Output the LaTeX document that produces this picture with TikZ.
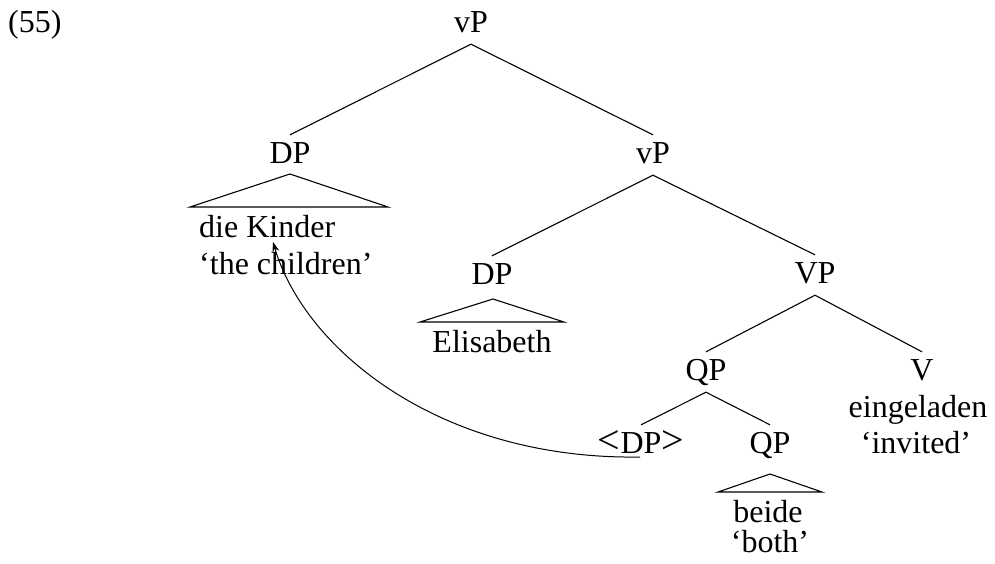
\documentclass[tikz,border=0pt]{standalone}
\usepackage{fontspec}
\setmainfont{Liberation Serif}
\usetikzlibrary{arrows.meta}
\newcommand{\lbrk}{\scalebox{1.25}{<}}
\newcommand{\rbrk}{\scalebox{1.25}{>}}
\begin{document}
\begin{tikzpicture}[x=1pt,y=-1pt,
  every node/.style={font=\fontsize{32}{38}\selectfont},
  cat/.style={anchor=base,inner xsep=0pt,inner ysep=6pt,text height=22pt,text depth=6pt},
  leaf/.style={anchor=base,inner sep=0pt},
  branch/.style={line width=1.1pt},
  tri/.style={line width=1.1pt,line join=miter},
  move/.style={line width=1pt,-{Stealth[length=10pt,width=7pt]}}]
\useasboundingbox (0,0) rectangle (995,563);
% example number
\node[leaf,anchor=base west] (num) at (8,32) {(55)};
% categories
\node[cat] (vP0) at (471,32) {vP};
\node[cat] (DP1) at (290,163) {DP};
\node[cat] (vP2) at (653,163) {vP};
\node[cat] (DP2) at (492,284) {DP};
\node[cat] (VP) at (815,283) {VP};
\node[cat] (QP1) at (706,380) {QP};
\node[cat] (V) at (922,380) {V};
\node[cat] (DPt) at (641,453) {\lbrk DP\rbrk};
\node[cat] (QP2) at (770,453) {QP};
% leaves
\node[leaf,anchor=base west] (kinder) at (199,237) {die Kinder};
\node[leaf,anchor=base west] (children) at (199,274) {`the children'};
\node[leaf] (elisabeth) at (492,352) {Elisabeth};
\node[leaf] (eingeladen) at (918,417) {eingeladen};
\node[leaf] (invited) at (916,453) {`invited'};
\node[leaf] (beide) at (768,522) {beide};
\node[leaf] (both) at (770,552) {`both'};
% branches
\draw[branch] (vP0.south) -- (DP1.north);
\draw[branch] (vP0.south) -- (vP2.north);
\draw[branch] (vP2.south) -- (DP2.north);
\draw[branch] (vP2.south) -- (VP.north);
\draw[branch] (VP.south) -- (QP1.north);
\draw[branch] (VP.south) -- (V.north);
\draw[branch] (QP1.south) -- (DPt.north);
\draw[branch] (QP1.south) -- (QP2.north);
% triangles
\coordinate (t1a) at (290,174);
\coordinate (t1l) at (190,207);
\coordinate (t1r) at (388,207);
\draw[tri] (t1l) -- (t1a) -- (t1r) -- cycle;
\coordinate (t2a) at (493,299);
\coordinate (t2l) at (420,322);
\coordinate (t2r) at (564,322);
\draw[tri] (t2l) -- (t2a) -- (t2r) -- cycle;
\coordinate (t3a) at (770,474);
\coordinate (t3l) at (718,492);
\coordinate (t3r) at (822,492);
\draw[tri] (t3l) -- (t3a) -- (t3r) -- cycle;
% movement arrow
\coordinate (mvStart) at (640,457);
\coordinate (mvEnd) at (273,242);
\draw[move] (mvStart) .. controls (440,460) and (305,350) .. (mvEnd);
\end{tikzpicture}
\end{document}
